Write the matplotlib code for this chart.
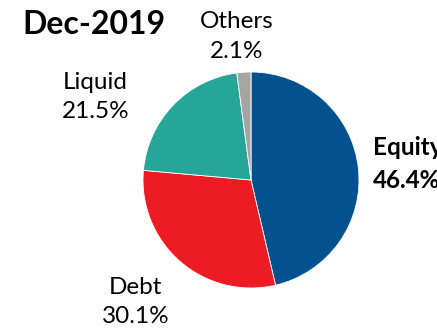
import matplotlib.pyplot as plt

plt.rcParams['font.family'] = ['Lato', 'DejaVu Sans']

title = "Dec-2019"
labels = ["Equity", "Debt", "Liquid", "Others"]
shares = [46.4, 30.1, 21.5, 2.1]
colors = ["#03528F", "#ED1C24", "#26A698", "#A5A5A5"]

# label anchors in pie units (radius = 1)
label_pos = {
    "Equity": (1.13, 0.15, "left", "bold"),
    "Debt": (-1.07, -1.13, "center", "normal"),
    "Liquid": (-1.44, 0.77, "center", "normal"),
    "Others": (-0.13, 1.33, "center", "normal"),
}

fig = plt.figure(figsize=(4.37, 3.31), dpi=100)
fig.set_facecolor('white')

ax = fig.add_axes([143 / 437, 43 / 331, 216 / 437, 216 / 331])
ax.pie(shares, colors=colors, startangle=90, counterclock=False,
       wedgeprops=dict(edgecolor='white', linewidth=0.6))
ax.set_xlim(-1, 1)
ax.set_ylim(-1, 1)
ax.set_aspect('equal')
ax.axis('off')

for name, val in zip(labels, shares):
    x, y, ha, w = label_pos[name]
    ax.text(x, y, f"{name}\n{val:.1f}%", ha=ha, va='center', fontsize=17.5,
            fontweight=w, linespacing=1.5, clip_on=False)

fig.text(22 / 437, 1 - 25 / 331, title, ha='left', va='center',
         fontsize=23, fontweight='bold')

fig.savefig("out.png", dpi=100)
